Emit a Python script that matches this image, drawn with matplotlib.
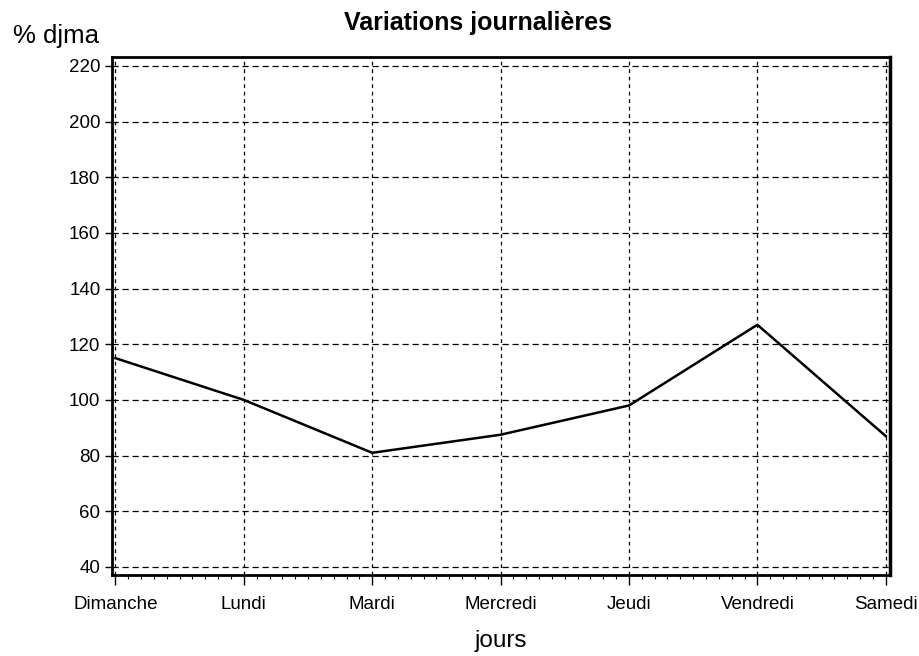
import numpy as np
import matplotlib.pyplot as plt
from matplotlib.ticker import MultipleLocator

plt.rcParams['font.family'] = ['Liberation Sans', 'DejaVu Sans']

# données
jours = ['Dimanche', 'Lundi', 'Mardi', 'Mercredi', 'Jeudi', 'Vendredi', 'Samedi']
djma = [115, 100, 81, 87.5, 98, 127, 87]
y_ticks = [40, 60, 80, 100, 120, 140, 160, 180, 200, 220]

W, H = 919, 656
fig = plt.figure(figsize=(W / 100, H / 100), dpi=100)
# cadre : x 111.6 -> 889.6, y 57 -> 575 (pixels)
ax = fig.add_axes([111.6 / W, 1 - 575 / H, 778 / W, 518 / H])

x = np.arange(len(jours))
ax.plot(x, djma, color='black', lw=1.8, zorder=3)

ax.set_xlim(-0.03, 6.03)
ax.set_ylim(37.1, 223.2)
ax.set_xticks(x)
ax.set_xticklabels(jours, fontsize=13.5)
ax.set_yticks(y_ticks)
ax.tick_params(axis='y', labelsize=13.5, length=5, width=1, direction='out', pad=3)
ax.tick_params(axis='x', length=7, width=1, direction='out', pad=8)
ax.xaxis.set_minor_locator(MultipleLocator(0.1))
ax.tick_params(axis='x', which='minor', length=3, width=0.8)

# grille pointillée
ax.grid(True, axis='y', ls=(0, (5, 3)), color='black', lw=0.9)
ax.grid(True, axis='x', ls=(0, (3, 3)), color='black', lw=0.9)

for s in ax.spines.values():
    s.set_linewidth(2)
ax.spines['right'].set_linewidth(2.5)

fig.text(478 / W, 1 - 30 / H, 'Variations journalières', fontsize=18,
         fontweight='bold', ha='center', va='baseline')
fig.text(13 / W, 1 - 43 / H, '% djma', fontsize=18.5, ha='left', va='baseline')
ax.set_xlabel('jours', fontsize=17.5, va='center')
ax.xaxis.set_label_coords(0.5, (575 - 641) / 518)

fig.savefig('out.png', dpi=100)
